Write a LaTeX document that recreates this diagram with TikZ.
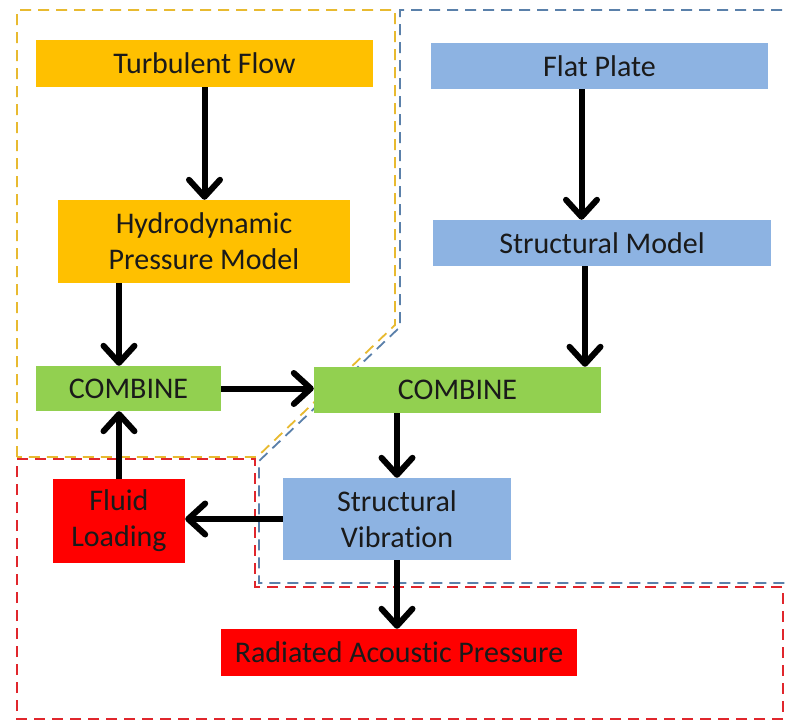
\documentclass[tikz,border=0pt]{standalone}
\usepackage{fontspec}
\setmainfont{Carlito}[Ligatures={NoCommon}]
\usetikzlibrary{arrows.meta}
\definecolor{orangefill}{HTML}{FFC000}
\definecolor{bluefill}{HTML}{8DB3E2}
\definecolor{greenfill}{HTML}{92D050}
\definecolor{redfill}{HTML}{FF0000}
\definecolor{yline}{HTML}{E8BA30}
\definecolor{bline}{HTML}{5A80AA}
\definecolor{rline}{HTML}{E0262C}
\definecolor{txt}{HTML}{1A1A1A}
\tikzset{
  box/.style={draw=none, inner sep=0pt, align=center, text=txt,
    font=\fontsize{30}{36}\selectfont},
  obox/.style={box, fill=orangefill},
  bbox/.style={box, fill=bluefill},
  gbox/.style={box, fill=greenfill},
  rbox/.style={box, fill=redfill},
  arr/.style={line width=6pt, black, -{Straight Barb[length=17pt,width=31pt,round]}},
  outl/.style={line width=1.8pt, dash pattern=on 11pt off 7pt},
}
\begin{document}
\begin{tikzpicture}[x=1pt,y=-1pt]
\useasboundingbox[fill=white] (0,0) rectangle (785,723);
% outlines
\draw[outl, yline] (17,457) -- (17,10) -- (395,10) -- (395,325) -- (257,457) -- cycle;
\draw[outl, bline] (800,10) -- (400,10) -- (400,327) -- (259,461) -- (259,583) -- (800,583);
\draw[outl, rline] (17,459) -- (255,459) -- (255,587) -- (783,587) -- (783,719) -- (17,719) -- cycle;
% nodes
\node[obox, minimum width=337pt, minimum height=47pt] (tf) at (204.5,63.5) {Turbulent Flow};
\node[obox, minimum width=292pt, minimum height=83pt] (hp) at (204,241.5) {Hydrodynamic\\Pressure Model};
\node[bbox, minimum width=337pt, minimum height=46pt] (fp) at (599.5,66) {Flat Plate};
\node[bbox, minimum width=338pt, minimum height=46pt] (sm) at (602,243) {Structural Model};
\node[gbox, minimum width=185pt, minimum height=45pt] (lc) at (128.5,388.5) {COMBINE};
\node[gbox, minimum width=287pt, minimum height=46pt] (rc) at (457.5,390) {COMBINE};
\node[rbox, minimum width=132pt, minimum height=84pt] (fl) at (119,521) {Fluid\\Loading};
\node[bbox, minimum width=228pt, minimum height=82pt] (sv) at (397,519) {Structural\\Vibration};
\node[rbox, minimum width=356pt, minimum height=47pt] (rp) at (399,652.5) {Radiated Acoustic Pressure};
% arrows
\draw[arr] (tf.south) -- (tf.south |- hp.north);
\draw[arr] ([xshift=-18pt]fp.south) -- ([xshift=-18pt]fp.south |- sm.north);
\draw[arr] ([xshift=-17pt]sm.south) -- ([xshift=-17pt]sm.south |- rc.north);
\draw[arr] (fl.north |- hp.south) -- (fl.north |- lc.north);
\draw[arr] (lc.east) -- (lc.east -| rc.west);
\draw[arr] (sv.north |- rc.south) -- (sv.north);
\draw[arr] (sv.west) -- (sv.west -| fl.east);
\draw[arr] (fl.north) -- (fl.north |- lc.south);
\draw[arr] (sv.south) -- (sv.south |- rp.north);
\end{tikzpicture}
\end{document}
